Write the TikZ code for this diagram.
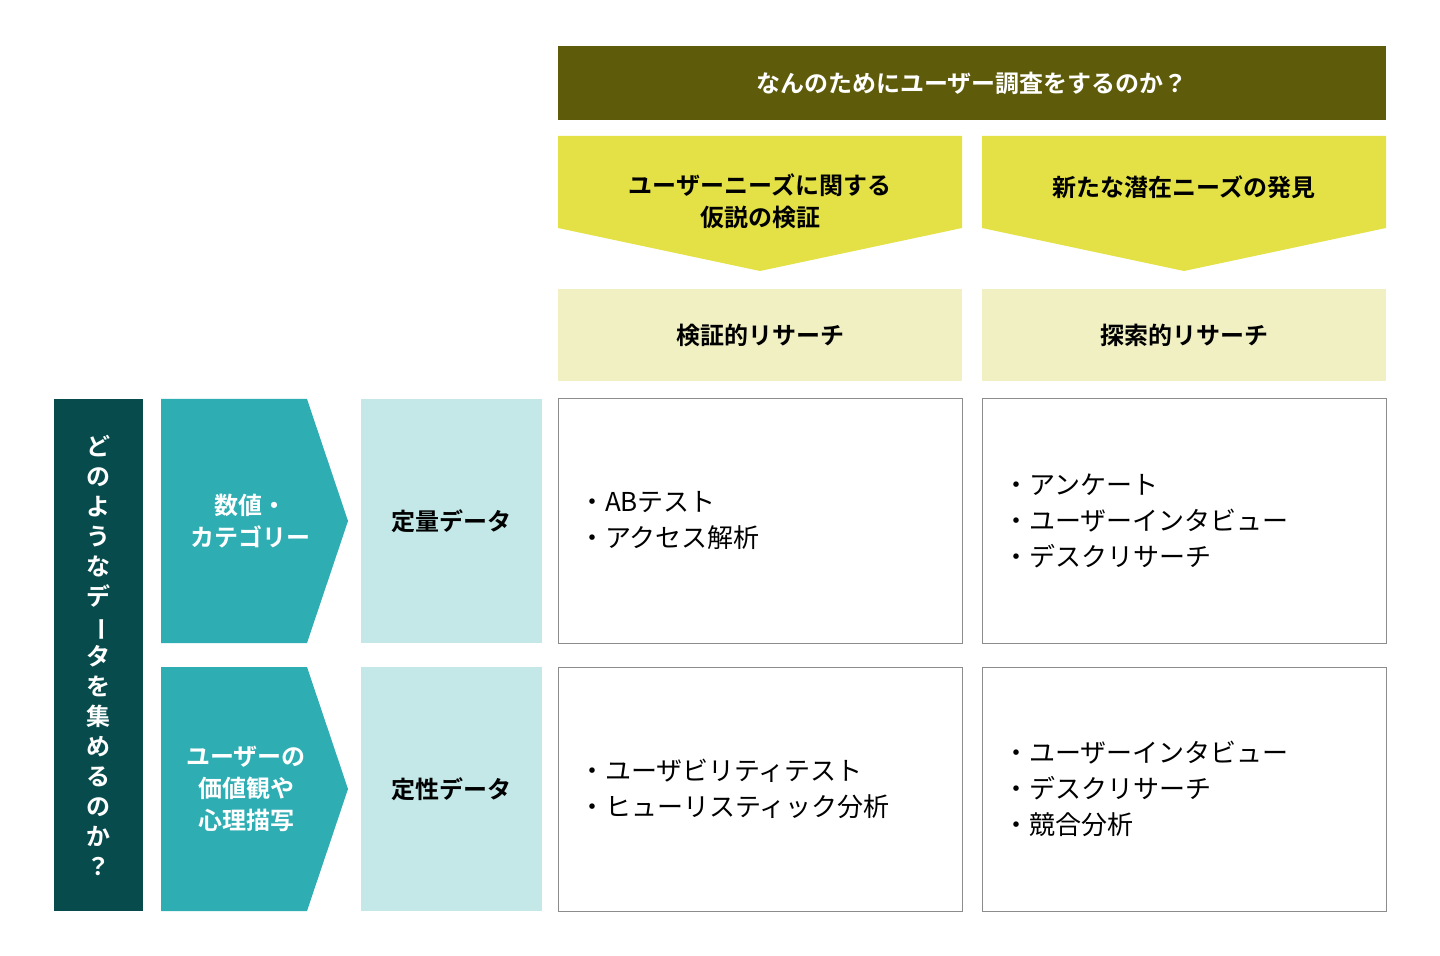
\documentclass[tikz,border=0pt]{standalone}
\usepackage{fontspec}
\setmainfont{Noto Sans CJK JP}
\newfontfamily\jpbold{Noto Sans CJK JP Bold}
\usepackage{graphicx}
\definecolor{olive}{HTML}{5E5C0A}
\definecolor{lemon}{HTML}{E3E145}
\definecolor{paleyellow}{HTML}{F1F0C3}
\definecolor{deepteal}{HTML}{074B4D}
\definecolor{teal}{HTML}{2EADB3}
\definecolor{paleteal}{HTML}{C4E8E8}
\newcommand{\vbar}{\rotatebox[origin=c]{-90}{ー}}
\begin{document}
\begin{tikzpicture}[x=0.5pt,y=-0.5pt,
    head/.style={font=\jpbold\fontsize{12}{16}\selectfont,align=center},
    body/.style={font=\fontsize{13}{18}\selectfont,align=left,anchor=west},
    cell/.style={draw=black!45,line width=0.5pt,fill=white}]
    \useasboundingbox (0,0) rectangle (1440,956);
    % top banner
    \fill[olive] (558,46) rectangle (1386,120);
    \node[head,text=white] (goal) at (972,83) {なんのためにユーザー調査をするのか？};
    % purposes
    \fill[lemon] (558,136) -- (962,136) -- (962,228) -- (760,271) -- (558,228) -- cycle;
    \fill[lemon] (982,136) -- (1386,136) -- (1386,228) -- (1184,271) -- (982,228) -- cycle;
    \node[head] (verify) at (760,201) {ユーザーニーズに関する\\仮説の検証};
    \node[head] (discover) at (1184,187) {新たな潜在ニーズの発見};
    \fill[paleyellow] (558,289) rectangle (962,381);
    \fill[paleyellow] (982,289) rectangle (1386,381);
    \node[head] (vres) at (760,335) {検証的リサーチ};
    \node[head] (eres) at (1184,335) {探索的リサーチ};
    % left side
    \fill[deepteal] (54,399) rectangle (143,911);
    \node[head,text=white,font=\jpbold\fontsize{12}{15}\selectfont] (what) at (98,655)
        {ど\\の\\よ\\う\\な\\デ\\\vbar\\タ\\を\\集\\め\\る\\の\\か\\？};
    \fill[teal] (161,399) -- (307,399) -- (348,521) -- (307,643) -- (161,643) -- cycle;
    \fill[teal] (161,667) -- (307,667) -- (348,789) -- (307,911) -- (161,911) -- cycle;
    \node[head,text=white] (num) at (250,521) {数値・\\カテゴリー};
    \node[head,text=white] (val) at (246,789) {ユーザーの\\価値観や\\心理描写};
    \fill[paleteal] (361,399) rectangle (542,643);
    \fill[paleteal] (361,667) rectangle (542,911);
    \node[head] (quant) at (451,521) {定量データ};
    \node[head] (qual) at (451,789) {定性データ};
    % methods
    \draw[cell] (558,399) rectangle (962,643);
    \draw[cell] (982,399) rectangle (1386,643);
    \draw[cell] (558,667) rectangle (962,911);
    \draw[cell] (982,667) rectangle (1386,911);
    \node[body] (m1) at (572,521) {・ABテスト\\・アクセス解析};
    \node[body] (m2) at (996,521) {・アンケート\\・ユーザーインタビュー\\・デスクリサーチ};
    \node[body] (m3) at (572,789) {・ユーザビリティテスト\\・ヒューリスティック分析};
    \node[body] (m4) at (996,789) {・ユーザーインタビュー\\・デスクリサーチ\\・競合分析};
\end{tikzpicture}
\end{document}
